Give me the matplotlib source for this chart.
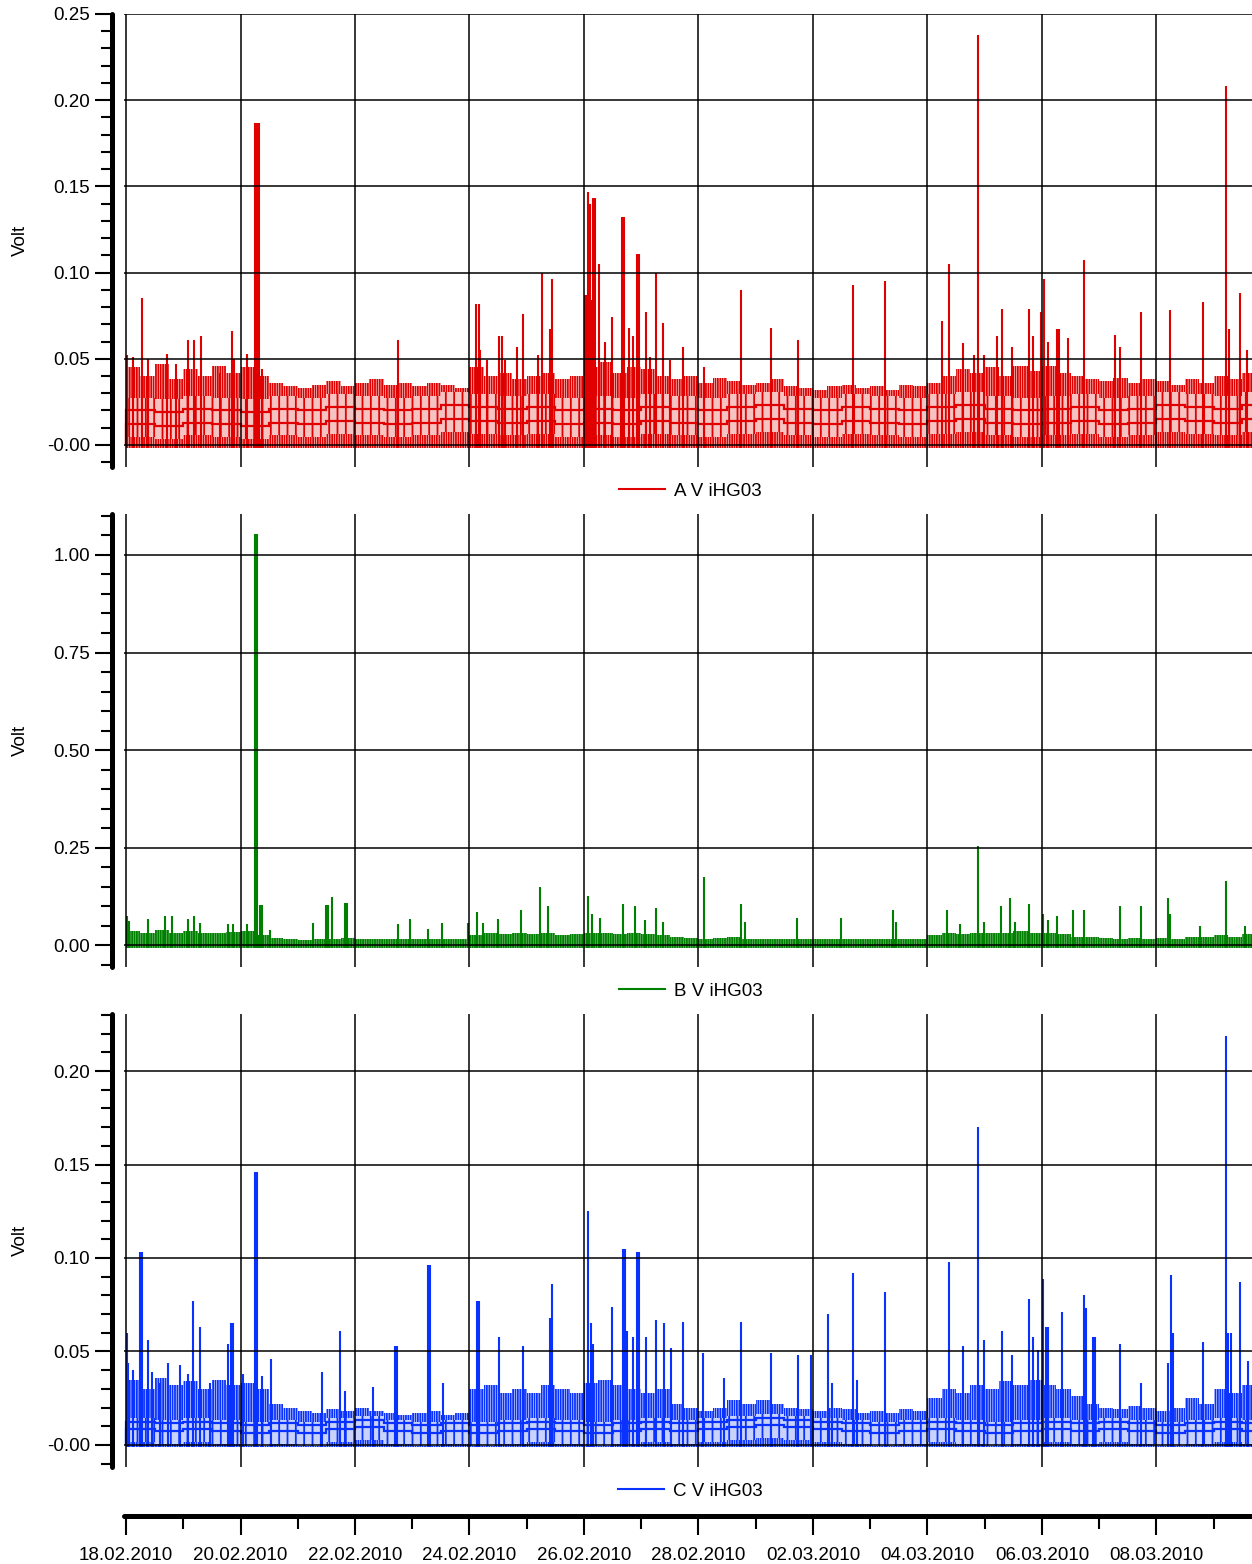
import numpy as np
import matplotlib
matplotlib.use("Agg")
import matplotlib.pyplot as plt
import matplotlib.dates as mdates
from matplotlib.lines import Line2D
from matplotlib.ticker import MultipleLocator
from datetime import datetime

plt.rcParams['font.family'] = ['Liberation Sans', 'DejaVu Sans']
plt.rcParams['font.size'] = 13.5
plt.rcParams['hatch.linewidth'] = 1.3

# time axis: days since 18.02.2010 00:00
start = datetime(2010, 2, 18)
x_days = np.arange(0, 19, 2)            # labelled days
x_minor_days = np.arange(1, 20, 2)

# ---- A V iHG03 (red) ----
a_top = [0.045, 0.040, 0.047, 0.038, 0.044, 0.040, 0.046, 0.042,
         0.045, 0.040, 0.036, 0.034, 0.033, 0.035, 0.037, 0.034,
         0.036, 0.038, 0.035, 0.036, 0.034, 0.036, 0.035, 0.033,
         0.045, 0.040, 0.042, 0.038, 0.040, 0.042, 0.038, 0.040,
         0.045, 0.048, 0.042, 0.045, 0.044, 0.040, 0.038, 0.040,
         0.036, 0.039, 0.037, 0.035, 0.036, 0.038, 0.034, 0.033,
         0.032, 0.034, 0.035, 0.033, 0.034, 0.032, 0.035, 0.034,
         0.036, 0.040, 0.044, 0.042, 0.045, 0.040, 0.046, 0.043,
         0.046, 0.042, 0.040, 0.038, 0.037, 0.039, 0.036, 0.038,
         0.037, 0.035, 0.038, 0.036, 0.040, 0.038, 0.042, 0.040]
a_mid = [0.016, 0.015, 0.017, 0.016, 0.015, 0.017, 0.016, 0.018, 0.017, 0.016,
         0.017, 0.019, 0.018, 0.017, 0.018, 0.016, 0.017, 0.016, 0.018, 0.017,
         0.016, 0.018, 0.019, 0.017, 0.016, 0.018, 0.017, 0.016, 0.018, 0.019,
         0.017, 0.016, 0.017, 0.018, 0.016, 0.017, 0.019, 0.018, 0.017, 0.019]
a_spk_t = [0.02, 0.12, 0.28, 0.38, 0.72, 0.87, 1.08, 1.19, 1.31, 1.64, 1.85, 1.89,
           2.11, 2.25, 2.29, 2.32, 2.38, 4.75, 6.11, 6.17, 6.18, 6.31, 6.52, 6.57,
           6.62, 6.83, 6.93, 7.20, 7.27, 7.41, 7.44, 8.02, 8.05, 8.07, 8.10, 8.14,
           8.16, 8.19, 8.26, 8.37, 8.49, 8.66, 8.70, 8.79, 8.86, 8.93, 8.96, 9.08,
           9.15, 9.26, 9.38, 9.50, 9.73, 10.10, 10.74, 11.27, 11.74, 12.70, 13.26,
           14.25, 14.38, 14.62, 14.81, 14.88, 14.99, 15.21, 15.30, 15.48, 15.77,
           15.84, 15.98, 16.03, 16.10, 16.26, 16.30, 16.45, 16.73, 17.28, 17.36,
           17.73, 18.24, 18.81, 19.21, 19.27, 19.46, 19.58]
a_spk_v = [0.052, 0.051, 0.085, 0.050, 0.053, 0.047, 0.061, 0.061, 0.063, 0.042, 0.066, 0.050,
           0.053, 0.187, 0.187, 0.187, 0.044, 0.061, 0.082, 0.082, 0.055, 0.049, 0.063, 0.063,
           0.049, 0.057, 0.076, 0.052, 0.100, 0.067, 0.096, 0.087, 0.087, 0.147, 0.140, 0.084,
           0.143, 0.143, 0.105, 0.060, 0.074, 0.132, 0.132, 0.068, 0.063, 0.111, 0.111, 0.077,
           0.051, 0.100, 0.071, 0.049, 0.057, 0.045, 0.090, 0.068, 0.061, 0.093, 0.095,
           0.072, 0.105, 0.059, 0.052, 0.238, 0.052, 0.063, 0.079, 0.057, 0.079,
           0.063, 0.077, 0.096, 0.060, 0.067, 0.067, 0.062, 0.107, 0.064, 0.057,
           0.077, 0.078, 0.083, 0.208, 0.067, 0.088, 0.055]

# ---- B V iHG03 (green) ----
b_top = [0.035, 0.030, 0.040, 0.032, 0.035, 0.030, 0.032, 0.034,
         0.035, 0.025, 0.018, 0.015, 0.014, 0.016, 0.015, 0.018,
         0.016, 0.015, 0.017, 0.016, 0.015, 0.016, 0.015, 0.016,
         0.025, 0.030, 0.028, 0.030, 0.028, 0.030, 0.025, 0.028,
         0.032, 0.030, 0.028, 0.030, 0.028, 0.025, 0.020, 0.018,
         0.016, 0.018, 0.020, 0.017, 0.016, 0.015, 0.016, 0.015,
         0.015, 0.016, 0.015, 0.016, 0.015, 0.016, 0.017, 0.016,
         0.025, 0.030, 0.028, 0.032, 0.030, 0.032, 0.035, 0.030,
         0.030, 0.028, 0.022, 0.020, 0.018, 0.017, 0.018, 0.016,
         0.018, 0.017, 0.020, 0.022, 0.025, 0.022, 0.028, 0.026]
b_spk_t = [0.02, 0.05, 0.38, 0.68, 0.80, 1.08, 1.19, 1.29, 1.78, 1.87, 2.11, 2.25,
           2.29, 2.34, 2.38, 2.52, 3.27, 3.49, 3.53, 3.60, 3.83, 3.86, 4.75, 4.96,
           5.28, 5.52, 5.97, 6.13, 6.24, 6.50, 6.90, 7.23, 7.37, 8.07, 8.14, 8.28,
           8.68, 8.89, 9.07, 9.26, 9.38, 10.10, 10.74, 10.81, 11.72, 12.49, 13.40,
           13.45, 14.34, 14.57, 14.88, 14.99, 15.28, 15.44, 15.53, 15.77, 16.02,
           16.10, 16.26, 16.54, 16.73, 17.36, 17.73, 18.20, 18.24, 18.76, 19.21, 19.55]
b_spk_v = [0.074, 0.062, 0.068, 0.074, 0.074, 0.068, 0.074, 0.056, 0.053, 0.053, 0.053, 1.055,
           1.055, 0.103, 0.103, 0.040, 0.056, 0.103, 0.103, 0.124, 0.107, 0.107, 0.053, 0.068,
           0.041, 0.056, 0.056, 0.085, 0.056, 0.068, 0.090, 0.150, 0.100, 0.125, 0.080, 0.070,
           0.105, 0.100, 0.065, 0.095, 0.060, 0.175, 0.105, 0.060, 0.070, 0.070, 0.090,
           0.060, 0.090, 0.055, 0.255, 0.060, 0.100, 0.120, 0.060, 0.105, 0.080,
           0.065, 0.075, 0.090, 0.090, 0.100, 0.100, 0.120, 0.080, 0.050, 0.165, 0.050]

# ---- C V iHG03 (blue) ----
c_top = [0.035, 0.030, 0.036, 0.032, 0.034, 0.030, 0.035, 0.032,
         0.033, 0.030, 0.022, 0.020, 0.018, 0.017, 0.019, 0.018,
         0.020, 0.018, 0.017, 0.016, 0.017, 0.018, 0.016, 0.017,
         0.030, 0.032, 0.028, 0.030, 0.028, 0.032, 0.030, 0.028,
         0.033, 0.035, 0.032, 0.030, 0.028, 0.030, 0.022, 0.020,
         0.018, 0.020, 0.024, 0.022, 0.024, 0.022, 0.020, 0.019,
         0.018, 0.020, 0.019, 0.017, 0.018, 0.017, 0.019, 0.018,
         0.025, 0.030, 0.028, 0.032, 0.030, 0.034, 0.032, 0.035,
         0.032, 0.030, 0.026, 0.022, 0.020, 0.019, 0.021, 0.020,
         0.018, 0.020, 0.025, 0.022, 0.030, 0.028, 0.032, 0.030]
c_mid = [0.008, 0.007, 0.008, 0.007, 0.006, 0.007, 0.006, 0.008, 0.009, 0.007,
         0.006, 0.007, 0.006, 0.007, 0.008, 0.007, 0.006, 0.007, 0.008, 0.007,
         0.008, 0.009, 0.010, 0.009, 0.008, 0.007, 0.006, 0.007, 0.008, 0.007,
         0.006, 0.007, 0.008, 0.007, 0.008, 0.007, 0.006, 0.007, 0.008, 0.007]
c_spk_t = [0.02, 0.03, 0.12, 0.24, 0.28, 0.38, 0.45, 0.59, 0.73, 0.94, 1.08, 1.17,
           1.29, 1.47, 1.78, 1.83, 1.87, 2.04, 2.25, 2.29, 2.38, 2.53, 3.42, 3.74,
           3.83, 4.31, 4.70, 4.73, 5.28, 5.31, 5.54, 6.13, 6.17, 6.52, 6.93, 7.41,
           7.44, 8.07, 8.12, 8.16, 8.49, 8.68, 8.72, 8.75, 8.86, 8.93, 8.96, 9.08,
           9.26, 9.40, 9.52, 9.73, 10.08, 10.45, 10.74, 11.27, 11.74, 11.97, 12.26,
           12.33, 12.70, 12.77, 13.26, 14.38, 14.62, 14.88, 14.99, 15.30, 15.48,
           15.77, 15.84, 15.93, 16.02, 16.07, 16.10, 16.35, 16.73, 16.77, 16.89,
           16.93, 17.36, 17.73, 18.20, 18.25, 18.29, 18.81, 19.21, 19.25, 19.30,
           19.46, 19.60]
c_spk_v = [0.060, 0.044, 0.040, 0.103, 0.103, 0.056, 0.039, 0.033, 0.044, 0.043, 0.038, 0.077,
           0.063, 0.033, 0.054, 0.065, 0.065, 0.038, 0.146, 0.146, 0.037, 0.046, 0.039, 0.061,
           0.029, 0.031, 0.053, 0.053, 0.096, 0.096, 0.033, 0.077, 0.077, 0.058, 0.053, 0.068,
           0.086, 0.125, 0.065, 0.054, 0.074, 0.105, 0.105, 0.061, 0.058, 0.103, 0.103, 0.058,
           0.067, 0.065, 0.052, 0.066, 0.049, 0.036, 0.066, 0.049, 0.048, 0.048, 0.070,
           0.033, 0.092, 0.035, 0.082, 0.098, 0.053, 0.170, 0.056, 0.061, 0.048,
           0.078, 0.058, 0.051, 0.089, 0.063, 0.063, 0.071, 0.080, 0.073, 0.058,
           0.058, 0.054, 0.033, 0.044, 0.091, 0.060, 0.055, 0.219, 0.060, 0.060,
           0.087, 0.045]

names = ['A V iHG03', 'B V iHG03', 'C V iHG03']


def to_num(days):
    return mdates.date2num(start) + np.asarray(days, dtype=float)


W, H = 1252, 1564
fig = plt.figure(figsize=(W / 100, H / 100), dpi=100)

left = 124.3 / W
width = 1 - left
tops = [14, 514, 1014]
ph = 453

panels = [
    dict(top=a_top, mid=a_mid, st=a_spk_t, sv=a_spk_v, base=-0.002, half=0.0115,
         tr=(0.004, -0.004), col='#e00000', band='#f6c3c3',
         ylim=(-0.0128, 0.25), major=[0, 0.05, 0.10, 0.15, 0.20, 0.25],
         labels=['-0.00', '0.05', '0.10', '0.15', '0.20', '0.25'], minor=0.01),
    dict(top=b_top, mid=None, st=b_spk_t, sv=b_spk_v, base=-0.008, half=0,
         tr=(), col='#008000', band='#8cc88c',
         ylim=(-0.056, 1.105), major=[0, 0.25, 0.5, 0.75, 1.0],
         labels=['0.00', '0.25', '0.50', '0.75', '1.00'], minor=0.05),
    dict(top=c_top, mid=c_mid, st=c_spk_t, sv=c_spk_v, base=-0.001, half=0.0065,
         tr=(0.0045, 0.0005), col='#0a32ff', band='#c8d2fa',
         ylim=(-0.0118, 0.2305), major=[0, 0.05, 0.10, 0.15, 0.20],
         labels=['-0.00', '0.05', '0.10', '0.15', '0.20'], minor=0.01),
]

for i, p in enumerate(panels):
    ax = fig.add_axes([left, 1 - (tops[i] + ph) / H, width, ph / H])
    top = np.array(p['top'])
    edges_q = to_num(np.arange(len(top) + 1) * 0.25)

    if p['mid'] is None:
        ax.stairs(top, edges_q, baseline=p['base'], fill=True,
                  facecolor=p['band'], lw=0, zorder=1)
    ax.stairs(top, edges_q, baseline=p['base'], fill=True, facecolor='none',
              edgecolor=p['col'], hatch='|||||||', lw=0, zorder=1.2)

    if p['mid'] is not None:
        mid = np.array(p['mid'])
        edges_h = to_num(np.arange(len(mid) + 1) * 0.5)
        ax.stairs(mid + p['half'], edges_h, baseline=mid - p['half'], fill=True,
                  facecolor=p['band'], lw=0, zorder=1.4)
        ax.stairs(mid + p['half'], edges_h, baseline=mid - p['half'], fill=True,
                  facecolor='none', edgecolor=p['col'], hatch='||', lw=0, zorder=1.5)
        for d in p['tr']:
            ax.stairs(mid + d, edges_h, color=p['col'], lw=1.6, zorder=1.6)

    ax.vlines(to_num(p['st']), p['base'], p['sv'], color=p['col'], lw=1.5, zorder=1.8)

    ax.set_xlim(to_num(-0.03), to_num(19.67))
    ax.set_ylim(*p['ylim'])
    ax.set_xticks(to_num(x_days))
    ax.tick_params(axis='x', length=0, labelbottom=False)
    ax.set_yticks(p['major'], labels=p['labels'])
    ax.yaxis.set_minor_locator(MultipleLocator(p['minor']))
    ax.tick_params(axis='y', which='major', length=12, width=1.5, pad=4, labelsize=13.5)
    ax.tick_params(axis='y', which='minor', length=8, width=1.5)
    ax.grid(True, color='black', lw=1.1)
    ax.set_axisbelow(False)

    for s in ['top', 'right', 'bottom']:
        ax.spines[s].set_visible(False)
    ax.spines['left'].set_position(('outward', 8.5))
    ax.spines['left'].set_linewidth(3.6)
    ax.spines['left'].set_capstyle('round')

    ax.set_ylabel('Volt', fontsize=13.5)
    ax.yaxis.set_label_coords(-0.085, 0.5)

    handle = Line2D([], [], color=p['col'], lw=1.5)
    ax.legend([handle], [names[i]], loc='center', frameon=False,
              bbox_to_anchor=(0.5515, 1 - (tops[i] + ph + 24) / H),
              bbox_transform=fig.transFigure, handlelength=2.45,
              handletextpad=0.48, borderpad=0, fontsize=13.5)

# separate date axis at the bottom
axd = fig.add_axes([left, 1 - 1516 / H, width, 0.0001])
axd.set_xlim(to_num(-0.03), to_num(19.67))
axd.set_yticks([])
for s in ['top', 'right', 'left']:
    axd.spines[s].set_visible(False)
axd.spines['bottom'].set_linewidth(3.6)
axd.spines['bottom'].set_capstyle('round')
axd.set_xticks(to_num(x_days))
axd.set_xticks(to_num(x_minor_days), minor=True)
axd.xaxis.set_major_formatter(mdates.DateFormatter('%d.%m.%Y'))
axd.tick_params(axis='x', which='major', length=14, width=1.5, pad=8, labelsize=13.5)
axd.tick_params(axis='x', which='minor', length=9, width=1.5)
axd.patch.set_visible(False)

fig.savefig('out.png', dpi=100)
